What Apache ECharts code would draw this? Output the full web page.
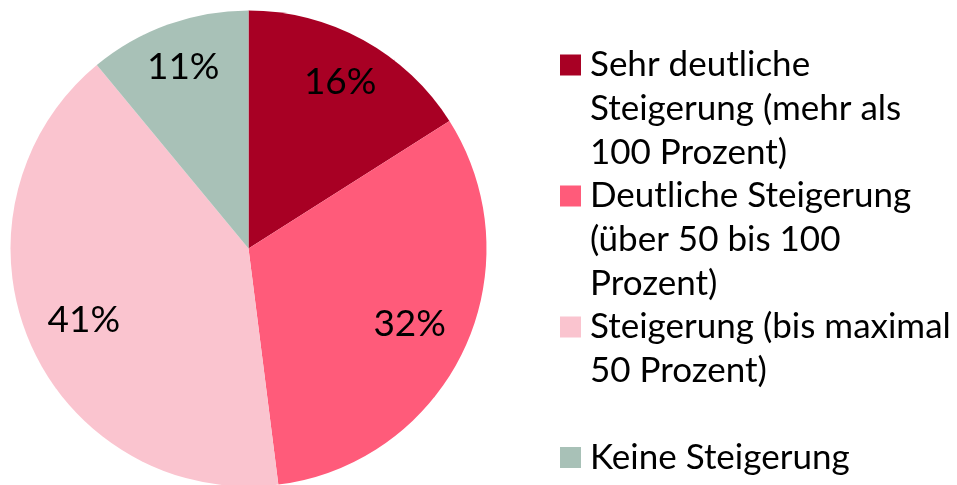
<!DOCTYPE html>
<html>
<head>
    <meta charset="UTF-8">
    <title>Steigerung</title>
    <script src="https://cdn.jsdelivr.net/npm/echarts@6/dist/echarts.min.js"></script>
    <style>
        html, body { margin: 0; padding: 0; background: #fff; }
        #chart { width: 957px; height: 485px; }
    </style>
</head>
<body>
<div id="chart"></div>
<script>
    const categories = [
        'Sehr deutliche Steigerung (mehr als 100 Prozent)',
        'Deutliche Steigerung (über 50 bis 100 Prozent)',
        'Steigerung (bis maximal 50 Prozent)',
        'Keine Steigerung'
    ]
    const values = [16, 32, 41, 11]
    const colors = ['#A80024', '#FF5B7A', '#FAC4CF', '#A8C1B7']
    // legend text wrapped like the original
    const legendLines = [
        ['Sehr deutliche', 'Steigerung (mehr als', '100 Prozent)'],
        ['Deutliche Steigerung', '(über 50 bis 100', 'Prozent)'],
        ['Steigerung (bis maximal', '50 Prozent)', ' '],
        ['Keine Steigerung']
    ]

    const CX = 248.5, CY = 248.5, R = 238
    // how far out (share of radius) each percentage sits, like the original
    const labelRadius = [0.78, 0.73, 0.735, 0.79]

    const legendText = {
        fontFamily: 'Lato',
        fontSize: 35,
        lineHeight: 44,
        color: '#000'
    }
    const legendFormatter = name => legendLines[categories.indexOf(name)].join('\n')

    let chart = echarts.init(document.getElementById('chart'), null, {renderer: 'canvas'})
    chart.setOption({
        animation: false,
        color: colors,
        legend: [{
            // first three entries: square at the top of a tall invisible box so it sits on the first line
            orient: 'vertical',
            left: 560,
            top: 43,
            padding: 0,
            itemGap: -1,
            itemWidth: 25,
            itemHeight: 131,
            selectedMode: false,
            icon: 'path://M0,0h0.01v0.01h-0.01z M0,11h21v21h-21z M25,131h0.01v0.01h-0.01z',
            formatter: legendFormatter,
            textStyle: legendText,
            data: categories.slice(0, 3)
        }, {
            orient: 'vertical',
            left: 560,
            top: 435.5,
            padding: 0,
            itemWidth: 25,
            itemHeight: 21,
            selectedMode: false,
            icon: 'path://M0,0h21v21h-21z M25,21h0.01v0.01h-0.01z',
            formatter: legendFormatter,
            textStyle: legendText,
            data: categories.slice(3)
        }],
        series: [{
            type: 'pie',
            center: [CX, CY],
            radius: R,
            startAngle: 90,
            clockwise: true,
            itemStyle: {borderWidth: 0},
            emphasis: {disabled: true},
            label: {
                show: true,
                position: 'inside',
                formatter: '{c}%',
                fontFamily: 'Lato',
                fontSize: 37,
                color: '#000'
            },
            labelLayout: params => {
                let r = params.labelRect
                let lx = r.x + r.width / 2, ly = r.y + r.height / 2
                let k = labelRadius[params.dataIndex] / 0.5
                return {x: CX + (lx - CX) * k, y: CY + (ly - CY) * k}
            },
            data: categories.map((name, i) => ({name, value: values[i]}))
        }]
    })
</script>
</body>
</html>
